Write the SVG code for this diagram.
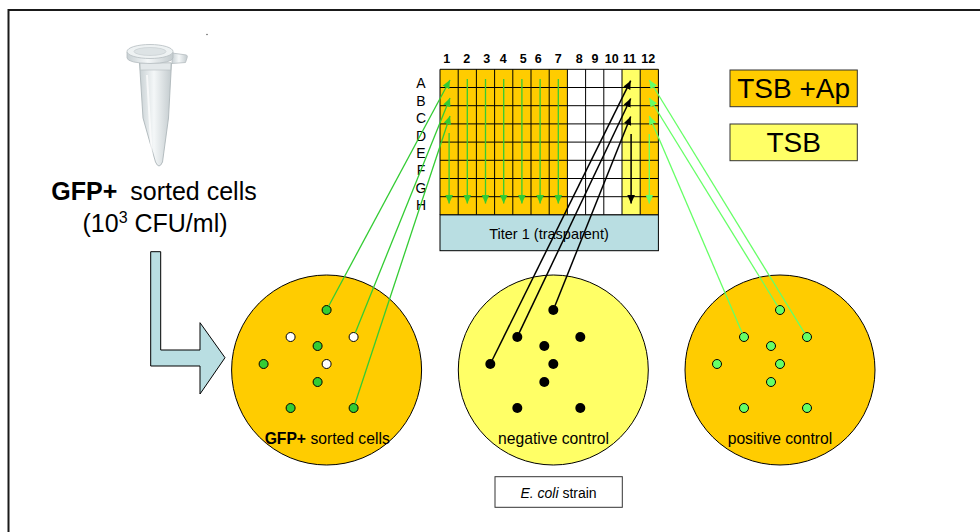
<svg xmlns="http://www.w3.org/2000/svg" width="980" height="532" viewBox="0 0 980 532">
  <defs>
    <style>
      .t { font-family: "Liberation Sans", Arial, sans-serif; fill: #000; }
      .lbl { font-size: 12.5px; font-weight: bold; text-anchor: middle; }
      .row { font-size: 14px; text-anchor: middle; }
      .plate { stroke: #000; stroke-width: 1; }
      .orange { fill: #FFCC00; }
      .yellow { fill: #FFFF66; }
      .blue { fill: #B9DEE2; }
      .col-g { fill: #33CC33; stroke: #000; stroke-width: 1; }
      .col-w { fill: #FFFFFF; stroke: #000; stroke-width: 1; }
      .col-k { fill: #000; }
      .col-lg { fill: #66FF66; stroke: #000; stroke-width: 1; }
      .grid { fill: none; stroke: #000; stroke-width: 1; }
      .c-g { stroke: #33CC33; stroke-width: 1.3; fill: none; marker-end: url(#ah-g); }
      .c-lg { stroke: #66FF66; stroke-width: 1.3; fill: none; marker-end: url(#ah-lg); }
      .c-k { stroke: #000; stroke-width: 1.5; fill: none; marker-end: url(#ah-k); }
    </style>
    <marker id="ah-g" viewBox="0 0 10 10" refX="10" refY="5" markerWidth="8.5" markerHeight="8.5" markerUnits="userSpaceOnUse" orient="auto">
      <path d="M0,0.5 L10,5 L0,9.5 Z" fill="#33CC33"/>
    </marker>
    <marker id="ah-lg" viewBox="0 0 10 10" refX="10" refY="5" markerWidth="8.5" markerHeight="8.5" markerUnits="userSpaceOnUse" orient="auto">
      <path d="M0,0.5 L10,5 L0,9.5 Z" fill="#66FF66"/>
    </marker>
    <marker id="ah-k" viewBox="0 0 10 10" refX="10" refY="5" markerWidth="8.5" markerHeight="8.5" markerUnits="userSpaceOnUse" orient="auto">
      <path d="M0,0.5 L10,5 L0,9.5 Z" fill="#000"/>
    </marker>
    <linearGradient id="tubeFill" x1="0" y1="0" x2="1" y2="0">
      <stop offset="0" stop-color="#C9D1D4"/>
      <stop offset="0.45" stop-color="#F4F7F8"/>
      <stop offset="1" stop-color="#C3CBCE"/>
    </linearGradient>
  </defs>

  <rect x="0" y="0" width="980" height="532" fill="#fff"/>
  <!-- page frame -->
  <path d="M8.5,532 V10 H980" fill="none" stroke="#1a1a1a" stroke-width="2"/>
  <circle cx="207" cy="34.5" r="0.7" fill="#444"/>

  <!-- microcentrifuge tube -->
  <g id="tube">
    <path d="M172,53 L186.5,55 Q188,56 187,58 L185.5,62.5 L172,63.5 Z" fill="url(#tubeFill)" stroke="#B5BDC0" stroke-width="0.8"/>
    <path d="M139.5,63 L171.5,63 L168.5,118 L162.5,162 Q159,170 155.5,162 L143,118 Z" fill="url(#tubeFill)" stroke="#AEB7BA" stroke-width="0.9"/>
    <path d="M140,63 L171,63 L170.6,70 L140.4,70 Z" fill="#E3E8EA" stroke="#B5BDC0" stroke-width="0.6"/>
    <path d="M127,52 L127,58 Q128,63 150,63.5 Q172,63 173,58 L173,52 Z" fill="url(#tubeFill)" stroke="#B5BDC0" stroke-width="0.8"/>
    <ellipse cx="150" cy="51.5" rx="23" ry="7" fill="#EEF2F3" stroke="#B5BDC0" stroke-width="0.8"/>
    <ellipse cx="150" cy="51.5" rx="16" ry="4" fill="#DDE3E5" stroke="#C3CACD" stroke-width="0.6"/>
    <path d="M147,75 L152,160" stroke="#FFFFFF" stroke-width="2" opacity="0.7"/>
  </g>

  <g id="source-label">
    <text class="t" x="154" y="200" font-size="25" text-anchor="middle"><tspan font-weight="bold">GFP+</tspan><tspan dx="13">sorted cells</tspan></text>
    <text class="t" x="155" y="232" font-size="25" text-anchor="middle">(10<tspan font-size="16" dy="-9">3</tspan><tspan dy="9"> CFU/ml)</tspan></text>
  </g>

  <!-- bent transfer arrow -->
  <g id="transfer-arrow">
    <polygon class="blue" points="150.7,251.7 160.7,251.7 160.7,350 200,350 200,322.7 225,357.7 200,394 200,366 150.7,366" stroke="#000" stroke-width="1"/>
  </g>

  <!-- 96-well plate -->
  <g id="microplate">
    <rect class="orange" x="440" y="69.3" width="127.4" height="145.6"/>
    <rect fill="#fff" x="567.4" y="69.3" width="54.6" height="145.6"/>
    <rect class="yellow" x="622" y="69.3" width="18.2" height="145.6"/>
    <rect class="orange" x="640.2" y="69.3" width="18.2" height="145.6"/>
    <path class="grid" d="M440,69.3V214.9 M458.2,69.3V214.9 M476.4,69.3V214.9 M494.6,69.3V214.9 M512.8,69.3V214.9 M531,69.3V214.9 M549.2,69.3V214.9 M567.4,69.3V214.9 M585.6,69.3V214.9 M603.8,69.3V214.9 M622,69.3V214.9 M640.2,69.3V214.9 M658.4,69.3V214.9
      M440,69.3H658.4 M440,87.5H658.4 M440,105.7H658.4 M440,123.9H658.4 M440,142.1H658.4 M440,160.3H658.4 M440,178.5H658.4 M440,196.7H658.4 M440,214.9H658.4"/>
    <g class="t lbl">
      <text x="446.7" y="62.7">1</text>
      <text x="466.7" y="62.7">2</text>
      <text x="486.7" y="62.7">3</text>
      <text x="503.3" y="62.7">4</text>
      <text x="523.3" y="62.7">5</text>
      <text x="538.3" y="62.7">6</text>
      <text x="558.3" y="62.7">7</text>
      <text x="579.3" y="62.7">8</text>
      <text x="595" y="62.7">9</text>
      <text x="611.7" y="62.7">10</text>
      <text x="629.5" y="62.7">11</text>
      <text x="648.3" y="62.7">12</text>
    </g>
    <g class="t row">
      <text x="421" y="88.3">A</text>
      <text x="421" y="106">B</text>
      <text x="421" y="123.3">C</text>
      <text x="421" y="140.5">D</text>
      <text x="421" y="158.3">E</text>
      <text x="421" y="175.2">F</text>
      <text x="421" y="192.7">G</text>
      <text x="421" y="210">H</text>
    </g>
  </g>

  <g id="titer-box">
    <rect class="blue" x="440" y="214.9" width="218.4" height="35.8" stroke="#000" stroke-width="1"/>
    <text class="t" x="549" y="238.5" font-size="14.5" text-anchor="middle">Titer 1 (trasparent)</text>
  </g>

  <!-- medium legend -->
  <g id="legend-tsb-ap">
    <rect class="orange" x="730" y="70" width="127.3" height="36.7" stroke="#333" stroke-width="1"/>
    <text class="t" x="793.7" y="98.3" font-size="28" text-anchor="middle">TSB +Ap</text>
  </g>
  <g id="legend-tsb">
    <rect class="yellow" x="730" y="124" width="127.3" height="36.7" stroke="#333" stroke-width="1"/>
    <text class="t" x="793.7" y="151.7" font-size="28" text-anchor="middle">TSB</text>
  </g>

  <!-- agar plates -->
  <g id="plate-sorted">
    <circle class="plate orange" cx="326.6" cy="370" r="95"/>
    <circle class="col-g" cx="326.6" cy="310" r="4.5"/>
    <circle class="col-w" cx="290.6" cy="337" r="4.5"/>
    <circle class="col-w" cx="353.6" cy="337" r="4.5"/>
    <circle class="col-g" cx="317.6" cy="346" r="4.5"/>
    <circle class="col-g" cx="263.6" cy="364" r="4.5"/>
    <circle class="col-w" cx="326.6" cy="364" r="4.5"/>
    <circle class="col-g" cx="317.6" cy="382" r="4.5"/>
    <circle class="col-g" cx="290.6" cy="408" r="4.5"/>
    <circle class="col-g" cx="353.6" cy="408" r="4.5"/>
    <text class="t" x="327.2" y="444" font-size="15.7" text-anchor="middle"><tspan font-weight="bold">GFP+</tspan> sorted cells</text>
  </g>

  <g id="plate-negative">
    <circle class="plate yellow" cx="553.3" cy="370" r="95"/>
    <g class="col-k">
      <circle cx="553.3" cy="310" r="5"/>
      <circle cx="517.3" cy="337" r="5"/>
      <circle cx="580.3" cy="337" r="5"/>
      <circle cx="544.3" cy="346" r="5"/>
      <circle cx="490.3" cy="364" r="5"/>
      <circle cx="553.3" cy="364" r="5"/>
      <circle cx="544.3" cy="382" r="5"/>
      <circle cx="517.3" cy="408" r="5"/>
      <circle cx="580.3" cy="408" r="5"/>
    </g>
    <text class="t" x="553.5" y="444" font-size="15.7" text-anchor="middle">negative control</text>
  </g>

  <g id="plate-positive">
    <circle class="plate orange" cx="780" cy="370" r="95"/>
    <circle class="col-lg" cx="780" cy="310" r="4.5"/>
    <circle class="col-lg" cx="744" cy="337" r="4.5"/>
    <circle class="col-lg" cx="807" cy="337" r="4.5"/>
    <circle class="col-lg" cx="771" cy="346" r="4.5"/>
    <circle class="col-lg" cx="717" cy="364" r="4.5"/>
    <circle class="col-lg" cx="780" cy="364" r="4.5"/>
    <circle class="col-lg" cx="771" cy="382" r="4.5"/>
    <circle class="col-lg" cx="744" cy="408" r="4.5"/>
    <circle class="col-lg" cx="807" cy="408" r="4.5"/>
    <text class="t" x="780" y="444" font-size="15.7" text-anchor="middle">positive control</text>
  </g>

  <g id="strain-label">
    <rect x="495" y="476.7" width="127.3" height="30.6" fill="#fff" stroke="#333" stroke-width="1"/>
    <text class="t" x="558.5" y="498.3" font-size="14" text-anchor="middle"><tspan font-style="italic">E. coli</tspan> strain</text>
  </g>

  <!-- connectors: colony picks and column replication -->
  <g id="connectors">
    <line class="c-g" x1="328.7" y1="306" x2="450" y2="80"/>
    <line class="c-g" x1="355.3" y1="332.8" x2="450" y2="98"/>
    <line class="c-g" x1="355" y1="403.7" x2="450" y2="116"/>
    <line class="c-k" x1="492.3" y1="360" x2="630.7" y2="80.7"/>
    <line class="c-k" x1="519.2" y1="332.9" x2="630.7" y2="98.5"/>
    <line class="c-k" x1="555" y1="305.8" x2="630.7" y2="116.5"/>
    <line class="c-lg" x1="804.6" y1="333.2" x2="649.3" y2="80"/>
    <line class="c-lg" x1="777.6" y1="306.2" x2="649.3" y2="98"/>
    <line class="c-lg" x1="742.2" y1="332.9" x2="649.3" y2="116"/>

    <line class="c-g" x1="449.1" y1="133" x2="449.1" y2="203.5"/>
    <line class="c-g" x1="467.3" y1="79" x2="467.3" y2="203.5"/>
    <line class="c-g" x1="485.5" y1="79" x2="485.5" y2="203.5"/>
    <line class="c-g" x1="503.7" y1="79" x2="503.7" y2="203.5"/>
    <line class="c-g" x1="521.9" y1="79" x2="521.9" y2="203.5"/>
    <line class="c-g" x1="540.1" y1="79" x2="540.1" y2="203.5"/>
    <line class="c-g" x1="558.3" y1="79" x2="558.3" y2="203.5"/>
    <line class="c-k" x1="631.1" y1="134" x2="631.1" y2="203.5"/>
    <line class="c-lg" x1="649.3" y1="134" x2="649.3" y2="203.5"/>
  </g>
</svg>
